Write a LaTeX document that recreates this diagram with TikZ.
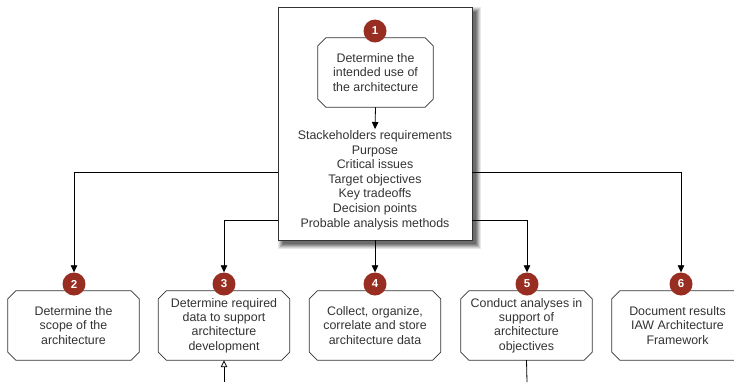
\documentclass[tikz,border=0pt]{standalone}
\usepackage{fontspec}
\setmainfont{Liberation Sans}
\usetikzlibrary{arrows.meta}
\definecolor{badgered}{HTML}{982D22}
\definecolor{txt}{HTML}{333333}
\definecolor{edge}{HTML}{333333}
\definecolor{sh1}{HTML}{E8E8E8}
\definecolor{sh2}{HTML}{D0D0D0}
\definecolor{sh3}{HTML}{B4B4B4}
\definecolor{sh4}{HTML}{989898}
\definecolor{sh5}{HTML}{808080}
\definecolor{sh6}{HTML}{6C6C6C}
\tikzset{
  stepbox/.style={rectangle, fill=white, minimum width=131bp, minimum height=69bp,
    inner sep=0pt, text=txt, align=center, font=\fontsize{12.4bp}{14.3bp}\selectfont},
  outline/.style={draw=edge, line width=0.8bp},
  badge/.style={circle, fill=badgered, minimum size=23bp, inner sep=0pt, text=white,
    font=\fontsize{11.5bp}{11.5bp}\selectfont\bfseries},
  arr/.style={-{Triangle[length=7bp,width=6.5bp]}, line width=0.8bp, draw=black},
  conn/.style={line width=0.8bp, draw=black},
  shadowlayer/.style={rectangle, inner sep=0pt, outer sep=0pt, draw=none, fill=#1},
}
\begin{document}
\begin{tikzpicture}[x=1bp,y=-1bp]
\useasboundingbox (0,0) rectangle (734,382);
% shadow of the big box
\node[shadowlayer=sh1, minimum width=203bp, minimum height=242bp] (sha) at (379,127.5) {};
\node[shadowlayer=sh2, minimum width=201bp, minimum height=240bp] (shb) at (379,127.5) {};
\node[shadowlayer=sh3, minimum width=199bp, minimum height=238bp] (shc) at (379,127.5) {};
\node[shadowlayer=sh4, minimum width=197bp, minimum height=236bp] (shd) at (379,127.5) {};
\node[shadowlayer=sh5, minimum width=195bp, minimum height=234bp] (she) at (379,127.5) {};
\node[shadowlayer=sh6, minimum width=193bp, minimum height=232bp] (shf) at (379,127.5) {};
% big box
\node[draw=edge, line width=0.8bp, fill=white, minimum width=194bp, minimum height=233bp, inner sep=0pt]
  (big) at (375,123.5) {};
\node[stepbox, minimum width=115bp] (s1) at (375.5,72.5) {Determine the\\intended use of\\the architecture};
\node[text=txt, align=center, font=\fontsize{12.4bp}{14.6bp}\selectfont, inner sep=0pt] (list) at (375,180)
  {Stackeholders requirements\\Purpose\\Critical issues\\Target objectives\\Key tradeoffs\\Decision points\\Probable analysis methods};
\draw[arr] (s1.south) -- (375,129) coordinate (a1);

% bottom boxes
\node[stepbox] (s2) at (73.5,325.5) {Determine the\\scope of the\\architecture};
\node[stepbox] (s3) at (224,325.5) {Determine required\\data to support\\architecture\\development};
\node[stepbox] (s4) at (375,325.5) {Collect, organize,\\correlate and store\\architecture data};
\node[stepbox] (s5) at (526.5,325.5) {Conduct analyses in\\support of\\architecture\\objectives};
\node[stepbox] (s6) at (677.5,325.5) {Document results\\IAW Architecture\\Framework};
% chamfered outlines
\foreach \n in {s1,s2,s3,s4,s5,s6}{
  \draw[outline] ([xshift=8bp]\n.north west) -- ([xshift=-8bp]\n.north east)
    -- ([yshift=-8bp]\n.north east) -- ([yshift=8bp]\n.south east)
    -- ([xshift=-8bp]\n.south east) -- ([xshift=8bp]\n.south west)
    -- ([yshift=8bp]\n.south west) -- ([yshift=-8bp]\n.north west) -- cycle;
}
\node[badge] (c1) at (375,31) {1};
\foreach \i/\x in {2/74,3/224,4/375,5/527,6/681}{
  \node[badge] (c\i) at (\x,284) {\i};
}
% connectors
\draw[arr] (big.west |- 0,172) -| (c2.north);
\draw[arr] (big.west |- 0,220) -| (c3.north);
\draw[arr] (big.south) -- (c4.north);
\draw[arr] (big.east |- 0,220) -| (c5.north);
\draw[arr] (big.east |- 0,172) -| (c6.north);
% bottom stubs
\coordinate (b3) at (224,382);
\coordinate (b5) at (527,382);
\draw[line width=0.8bp, -{Triangle[open,length=7bp,width=6.5bp]}] (b3) -- (s3.south);
\draw[conn] (s5.south) -- (b5);
\end{tikzpicture}
\end{document}
